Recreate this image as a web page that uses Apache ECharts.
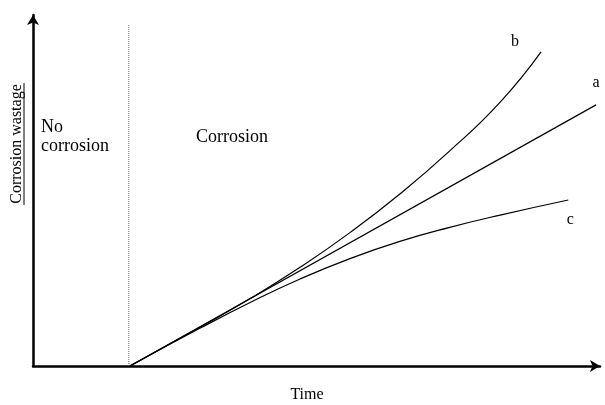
<!DOCTYPE html>
<html>
<head>
<meta charset="utf-8">
<script src="https://cdn.jsdelivr.net/npm/echarts@6/dist/echarts.min.js"></script>
<style>html,body{margin:0;padding:0;background:#fff}#c{width:605px;height:405px}</style>
</head>
<body>
<div id="c"></div>
<script>
// Time (arbitrary units) and corrosion wastage (arbitrary units)
const onsetTime = 16.9;
const onsetLineTop = 97.2;
const timeA = [17.1, 99.3];
const wastageA = [0, 74.4];
const timeB = [17.1, 29.5, 38.3, 47.1, 55.9, 64.7, 73.5, 82.4, 89.6];
const wastageB = [0, 11.1, 19.2, 28.1, 38.0, 49.0, 61.3, 75.2, 89.5];
const timeC = [17.1, 29.5, 38.3, 47.1, 55.9, 64.7, 73.5, 82.4, 94.4];
const wastageC = [0, 10.8, 18.1, 24.8, 30.6, 35.5, 39.5, 43.0, 47.3];
const curveNames = ['a', 'b', 'c'];

const zip = (xs, ys) => xs.map((x, i) => [x, ys[i]]);
const FONT = '"Liberation Serif", "DejaVu Serif", serif';

const chart = echarts.init(document.getElementById('c'), null, {renderer: 'canvas'});

function curve(name, data, offset) {
  return {
    type: 'line', name: name, data: data, smooth: true, showSymbol: false, silent: true,
    lineStyle: {color: '#000', width: 1.2},
    endLabel: {show: true, formatter: name, color: '#000', fontFamily: FONT, fontSize: 16,
      distance: 0, align: 'center', verticalAlign: 'middle', offset: offset},
    z: 3
  };
}

chart.setOption({
  animation: false,
  backgroundColor: '#fff',
  grid: {left: 33, right: 5, top: 15, bottom: 39},
  xAxis: {
    type: 'value', min: 0, max: 100,
    axisLine: {show: true, onZero: false, lineStyle: {color: '#000', width: 2.5},
      symbol: ['none', 'arrow'], symbolSize: [9, 10]},
    axisTick: {show: false}, axisLabel: {show: false}, splitLine: {show: false}
  },
  yAxis: {
    type: 'value', min: 0, max: 100,
    axisLine: {show: true, onZero: false, lineStyle: {color: '#000', width: 2.5},
      symbol: ['none', 'arrow'], symbolSize: [9, 10]},
    axisTick: {show: false}, axisLabel: {show: false}, splitLine: {show: false}
  },
  series: [
    {
      type: 'line', data: [[onsetTime, 0], [onsetTime, onsetLineTop]], showSymbol: false, silent: true,
      lineStyle: {color: '#666', width: 1, type: [1, 1]}, z: 1
    },
    curve(curveNames[0], zip(timeA, wastageA), [0, -22]),
    curve(curveNames[1], zip(timeB, wastageB), [-26, -10]),
    curve(curveNames[2], zip(timeC, wastageC), [2, 20])
  ],
  graphic: [
    {type: 'text', x: 41, y: 127, style: {text: 'No', font: '18px ' + FONT, fill: '#000', verticalAlign: 'middle'}},
    {type: 'text', x: 41, y: 146, style: {text: 'corrosion', font: '18px ' + FONT, fill: '#000', verticalAlign: 'middle'}},
    {type: 'text', x: 196, y: 137, style: {text: 'Corrosion', font: '18px ' + FONT, fill: '#000', verticalAlign: 'middle'}},
    {type: 'text', x: 307, y: 395, style: {text: 'Time', font: '16px ' + FONT, fill: '#000', align: 'center', verticalAlign: 'middle'}},
    {type: 'text', x: 17, y: 144, rotation: Math.PI / 2,
      style: {text: 'Corrosion wastage', font: '16px ' + FONT, fill: '#000', align: 'center', verticalAlign: 'middle'}},
    {type: 'line', shape: {x1: 24, y1: 83, x2: 24, y2: 205}, style: {stroke: '#000', lineWidth: 1}}
  ]
});
</script>
</body>
</html>
